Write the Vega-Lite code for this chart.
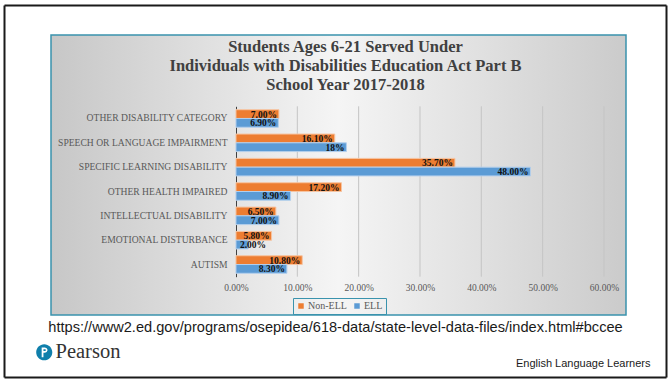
{
  "$schema": "https://vega.github.io/schema/vega-lite/v6.json",
  "width": 575,
  "height": 280,
  "autosize": {"type": "none"},
  "padding": {"left": 51, "top": 35, "right": 42, "bottom": 65},
  "background": "white",
  "title": {
    "text": ["Students Ages 6-21 Served Under", "Individuals with Disabilities Education Act Part B", "School Year 2017-2018"],
    "font": "Liberation Serif",
    "fontSize": 16.5,
    "fontWeight": "bold",
    "color": "#404040",
    "lineHeight": 19,
    "anchor": "middle",
    "frame": "group",
    "offset": -91,
    "dx": 7
  },
  "view": {
    "fill": {
      "gradient": "linear",
      "x1": 0, "y1": 0, "x2": 1, "y2": 0,
      "stops": [
        {"offset": 0, "color": "#c7c7c7"},
        {"offset": 0.5, "color": "#f5f5f5"},
        {"offset": 1, "color": "#cbcbcb"}
      ]
    },
    "stroke": "#3a93ad",
    "strokeWidth": 1.5
  },
  "datasets": {
    "grid": [
      {"value": 10}, {"value": 20}, {"value": 30}, {"value": 40}, {"value": 50}, {"value": 60}
    ],
    "bars": [
      {"cat": "OTHER DISABILITY CATEGORY", "series": "Non-ELL", "value": 7.0, "label": "7.00%"},
      {"cat": "OTHER DISABILITY CATEGORY", "series": "ELL", "value": 6.9, "label": "6.90%"},
      {"cat": "SPEECH OR LANGUAGE IMPAIRMENT", "series": "Non-ELL", "value": 16.1, "label": "16.10%"},
      {"cat": "SPEECH OR LANGUAGE IMPAIRMENT", "series": "ELL", "value": 18.0, "label": "18%"},
      {"cat": "SPECIFIC LEARNING DISABILITY", "series": "Non-ELL", "value": 35.7, "label": "35.70%"},
      {"cat": "SPECIFIC LEARNING DISABILITY", "series": "ELL", "value": 48.0, "label": "48.00%"},
      {"cat": "OTHER HEALTH IMPAIRED", "series": "Non-ELL", "value": 17.2, "label": "17.20%"},
      {"cat": "OTHER HEALTH IMPAIRED", "series": "ELL", "value": 8.9, "label": "8.90%"},
      {"cat": "INTELLECTUAL DISABILITY", "series": "Non-ELL", "value": 6.5, "label": "6.50%"},
      {"cat": "INTELLECTUAL DISABILITY", "series": "ELL", "value": 7.0, "label": "7.00%"},
      {"cat": "EMOTIONAL DISTURBANCE", "series": "Non-ELL", "value": 5.8, "label": "5.80%"},
      {"cat": "EMOTIONAL DISTURBANCE", "series": "ELL", "value": 2.0, "label": "2.00%"},
      {"cat": "AUTISM", "series": "Non-ELL", "value": 10.8, "label": "10.80%"},
      {"cat": "AUTISM", "series": "ELL", "value": 8.3, "label": "8.30%"}
    ],
    "brand": [
      {"brand": "Pearson"}
    ],
    "frame": [
      {"f": 0}
    ]
  },
  "layer": [
    {
      "data": {"name": "frame"},
      "mark": {"type": "point", "opacity": 0},
      "encoding": {
        "x": {
          "datum": 0,
          "type": "quantitative",
          "scale": {"domain": [0, 1], "range": [-47, 615], "nice": false, "zero": false},
          "axis": {"orient": "top", "offset": 30, "domainColor": "#1a1a1a", "domainWidth": 2, "labels": false, "ticks": false, "grid": false, "title": null}
        },
        "y": {
          "datum": 0,
          "type": "quantitative",
          "scale": {"domain": [0, 1], "range": [-30, 342], "nice": false, "zero": false},
          "axis": {"orient": "left", "offset": 47, "domainColor": "#1a1a1a", "domainWidth": 2, "labels": false, "ticks": false, "grid": false, "title": null}
        }
      }
    },
    {
      "data": {"name": "frame"},
      "mark": {"type": "point", "opacity": 0},
      "encoding": {
        "x": {
          "datum": 0,
          "type": "quantitative",
          "scale": {"domain": [0, 1], "range": [-47, 615], "nice": false, "zero": false},
          "axis": {"orient": "bottom", "offset": 62, "domainColor": "#1a1a1a", "domainWidth": 2, "labels": false, "ticks": false, "grid": false, "title": null}
        },
        "y": {
          "datum": 0,
          "type": "quantitative",
          "scale": {"domain": [0, 1], "range": [-30, 342], "nice": false, "zero": false},
          "axis": {"orient": "right", "offset": 40, "domainColor": "#1a1a1a", "domainWidth": 2, "labels": false, "ticks": false, "grid": false, "title": null}
        }
      }
    },
    {
      "data": {"name": "grid"},
      "mark": {"type": "rule", "color": "#c4c4c4", "strokeWidth": 1},
      "encoding": {
        "x": {
          "field": "value",
          "type": "quantitative",
          "scale": {"domain": [-30.16, 63.59], "nice": false, "zero": false},
          "axis": {
            "orient": "bottom",
            "offset": -38,
            "values": [0, 10, 20, 30, 40, 50, 60],
            "labelExpr": "format(datum.value, '.2f') + '%'",
            "domain": false,
            "ticks": false,
            "grid": false,
            "labelOverlap": false,
            "labelFont": "Liberation Serif",
            "labelFontSize": 9.5,
            "labelColor": "#595959",
            "labelPadding": 5,
            "title": "https://www2.ed.gov/programs/osepidea/618-data/state-level-data-files/index.html#bccee",
            "titleFont": "Liberation Sans",
            "titleFontSize": 14.6,
            "titleFontWeight": "normal",
            "titleColor": "#1a1a1a",
            "titleX": 284,
            "titleY": 50,
            "titleAlign": "center",
            "titleBaseline": "middle"
          }
        },
        "y": {
          "datum": 0,
          "type": "quantitative",
          "scale": {"domain": [0, 1], "range": [71.3, 241.7]},
          "axis": {
            "orient": "right",
            "labels": false,
            "ticks": false,
            "domain": false,
            "grid": false,
            "title": "English Language Learners",
            "titleAngle": 0,
            "titleFont": "Liberation Sans",
            "titleFontSize": 11,
            "titleFontWeight": "normal",
            "titleColor": "#1a1a1a",
            "titleX": 24,
            "titleY": 328,
            "titleAlign": "right",
            "titleBaseline": "middle"
          }
        },
        "y2": {"datum": 1}
      }
    },
    {
      "layer": [
        {
          "data": {"name": "bars"},
          "mark": {"type": "bar", "strokeWidth": 1},
          "encoding": {
            "x": {"field": "value", "type": "quantitative", "scale": {"domain": [-30.16, 63.59], "nice": false, "zero": false}, "axis": null},
            "y": {
              "field": "cat",
              "type": "nominal",
              "sort": ["OTHER DISABILITY CATEGORY", "SPEECH OR LANGUAGE IMPAIRMENT", "SPECIFIC LEARNING DISABILITY", "OTHER HEALTH IMPAIRED", "INTELLECTUAL DISABILITY", "EMOTIONAL DISTURBANCE", "AUTISM"],
              "scale": {"range": [71.3, 241.7], "paddingInner": 0.28, "paddingOuter": 0.14},
              "axis": {
                "orient": "left",
                "offset": -185,
                "title": null,
                "ticks": false,
                "grid": false,
                "domainColor": "#404040",
                "domainWidth": 1,
                "labelFont": "Liberation Serif",
                "labelFontSize": 9.6,
                "labelColor": "#595959",
                "labelPadding": 9,
                "labelLimit": 0
              }
            },
            "yOffset": {"field": "series", "sort": ["Non-ELL", "ELL"], "scale": {"paddingInner": 0, "paddingOuter": 0}},
            "color": {
              "field": "series",
              "type": "nominal",
              "scale": {"domain": ["Non-ELL", "ELL"], "range": ["#ED7D31", "#5B9BD5"]},
              "legend": {
                "title": null,
                "orient": "none",
                "legendX": 242,
                "legendY": 263,
                "direction": "horizontal",
                "strokeColor": "#3a93ad",
                "padding": 3,
                "symbolType": "square",
                "symbolSize": 30,
                "symbolStrokeWidth": 0,
                "labelFont": "Liberation Serif",
                "labelFontSize": 10,
                "labelColor": "#595959",
                "labelOffset": 2,
                "columnPadding": 5
              }
            },
            "stroke": {
              "field": "series",
              "type": "nominal",
              "scale": {"domain": ["Non-ELL", "ELL"], "range": ["#f6c4a1", "#b3cfec"]},
              "legend": null
            }
          }
        },
        {
          "data": {"name": "bars"},
          "transform": [{"filter": "datum.value >= 3"}],
          "mark": {"type": "text", "align": "right", "baseline": "middle", "dx": -2, "dy": 0.5, "font": "Liberation Serif", "fontSize": 9.5, "fontWeight": "bold", "color": "#111111"},
          "encoding": {
            "x": {"field": "value", "type": "quantitative"},
            "y": {
              "field": "cat",
              "type": "nominal",
              "sort": ["OTHER DISABILITY CATEGORY", "SPEECH OR LANGUAGE IMPAIRMENT", "SPECIFIC LEARNING DISABILITY", "OTHER HEALTH IMPAIRED", "INTELLECTUAL DISABILITY", "EMOTIONAL DISTURBANCE", "AUTISM"]
            },
            "yOffset": {"field": "series", "sort": ["Non-ELL", "ELL"]},
            "text": {"field": "label"}
          }
        },
        {
          "data": {"name": "bars"},
          "transform": [{"filter": "datum.value < 3"}],
          "mark": {"type": "text", "align": "left", "baseline": "middle", "dx": 4, "dy": 0.5, "font": "Liberation Serif", "fontSize": 9.5, "fontWeight": "bold", "color": "#111111"},
          "encoding": {
            "x": {"datum": 0, "type": "quantitative"},
            "y": {
              "field": "cat",
              "type": "nominal",
              "sort": ["OTHER DISABILITY CATEGORY", "SPEECH OR LANGUAGE IMPAIRMENT", "SPECIFIC LEARNING DISABILITY", "OTHER HEALTH IMPAIRED", "INTELLECTUAL DISABILITY", "EMOTIONAL DISTURBANCE", "AUTISM"]
            },
            "yOffset": {"field": "series", "sort": ["Non-ELL", "ELL"]},
            "text": {"field": "label"}
          }
        },
        {
          "data": {"name": "brand"},
          "mark": {"type": "point", "filled": true, "opacity": 0, "color": "#0f7fab"},
          "encoding": {
            "shape": {
              "field": "brand",
              "type": "nominal",
              "scale": {"range": ["M1,0A1,1,0,1,0,-1,0A1,1,0,1,0,1,0Z M-0.32,-0.58L0.08,-0.58L0.3,-0.5L0.42,-0.28L0.3,-0.04L0.08,0.05L-0.1,0.05L-0.1,0.62L-0.32,0.62Z M-0.1,-0.38L-0.1,-0.15L0.08,-0.15L0.18,-0.2L0.21,-0.27L0.18,-0.34L0.08,-0.38Z"]},
              "legend": {
                "title": null,
                "orient": "none",
                "legendX": -17,
                "legendY": 307,
                "padding": 0,
                "symbolSize": 260,
                "symbolFillColor": "#0f7fab",
                "symbolStrokeWidth": 0,
                "symbolOpacity": 1,
                "labelFont": "Liberation Serif",
                "labelFontSize": 20.5,
                "labelColor": "#333333",
                "labelOffset": 1
              }
            }
          }
        }
      ]
    }
  ],
  "resolve": {"scale": {"x": "independent", "y": "independent"}, "axis": {"x": "independent", "y": "independent"}}
}
